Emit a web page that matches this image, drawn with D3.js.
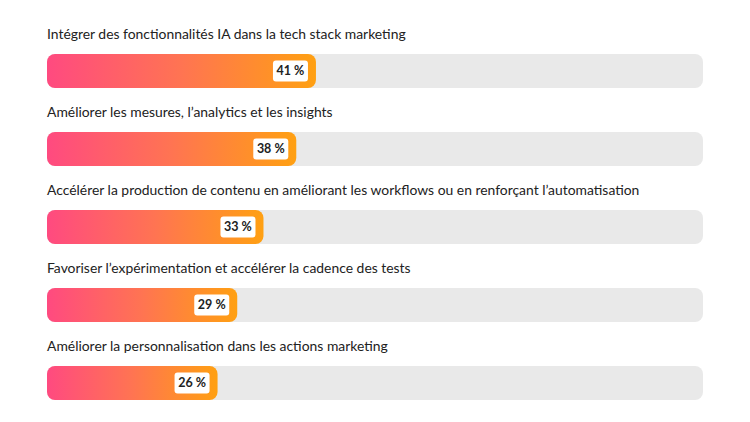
<!DOCTYPE html>
<html><head><meta charset="utf-8">
<script src="https://cdn.jsdelivr.net/npm/d3@7"></script>
<style>html,body{margin:0;padding:0;background:#fff;}svg{display:block;}</style>
</head><body>
<svg id="c" width="750" height="422"></svg>
<script>
const categories = [
  "Intégrer des fonctionnalités IA dans la tech stack marketing",
  "Améliorer les mesures, l’analytics et les insights",
  "Accélérer la production de contenu en améliorant les workflows ou en renforçant l’automatisation",
  "Favoriser l’expérimentation et accélérer la cadence des tests",
  "Améliorer la personnalisation dans les actions marketing"
];
const values = [41, 38, 33, 29, 26];

const svg = d3.select("#c");
const left = 47, right = 703;
const x = d3.scaleLinear().domain([0, 100]).range([left, right]);
const y = d3.scaleBand().domain(categories).range([15, 405]).paddingInner(0).paddingOuter(0);
const barH = 34, barOff = 39;

const defs = svg.append("defs");
values.forEach((v, i) => {
  const g = defs.append("linearGradient").attr("id", "g" + i)
    .attr("gradientUnits", "userSpaceOnUse")
    .attr("x1", x(0)).attr("x2", x(v)).attr("y1", 0).attr("y2", 0);
  g.append("stop").attr("offset", "0%").attr("stop-color", "#ff4a80");
  g.append("stop").attr("offset", "50%").attr("stop-color", "#ff7452");
  g.append("stop").attr("offset", "100%").attr("stop-color", "#ffa012");
});

const rows = svg.selectAll("g.row").data(categories).join("g").attr("class", "row")
  .attr("transform", d => `translate(0,${y(d)})`);

rows.append("text")
  .attr("x", left).attr("y", 24.3)
  .attr("font-family", "Lato, 'Open Sans', sans-serif")
  .attr("font-size", 13.9).attr("fill", "#222")
  .text(d => d);

rows.append("rect")
  .attr("x", x(0)).attr("y", barOff).attr("width", x(100) - x(0)).attr("height", barH)
  .attr("rx", 8).attr("fill", "#e9e9e9");

rows.append("rect")
  .attr("x", x(0)).attr("y", barOff)
  .attr("width", (d, i) => x(values[i]) - x(0)).attr("height", barH)
  .attr("rx", 8).attr("fill", (d, i) => `url(#g${i})`);

const bw = 35, bh = 21;
rows.append("rect")
  .attr("x", (d, i) => x(values[i]) - 8 - bw).attr("y", barOff + (barH - bh) / 2)
  .attr("width", bw).attr("height", bh).attr("rx", 3).attr("fill", "#fff");

rows.append("text")
  .attr("x", (d, i) => x(values[i]) - 8 - bw / 2).attr("y", barOff + barH / 2 + 4.4)
  .attr("text-anchor", "middle")
  .attr("font-family", "Lato, 'Open Sans', sans-serif")
  .attr("font-weight", "bold").attr("font-size", 12.5).attr("fill", "#222")
  .text((d, i) => values[i] + " %");
</script>
</body></html>
